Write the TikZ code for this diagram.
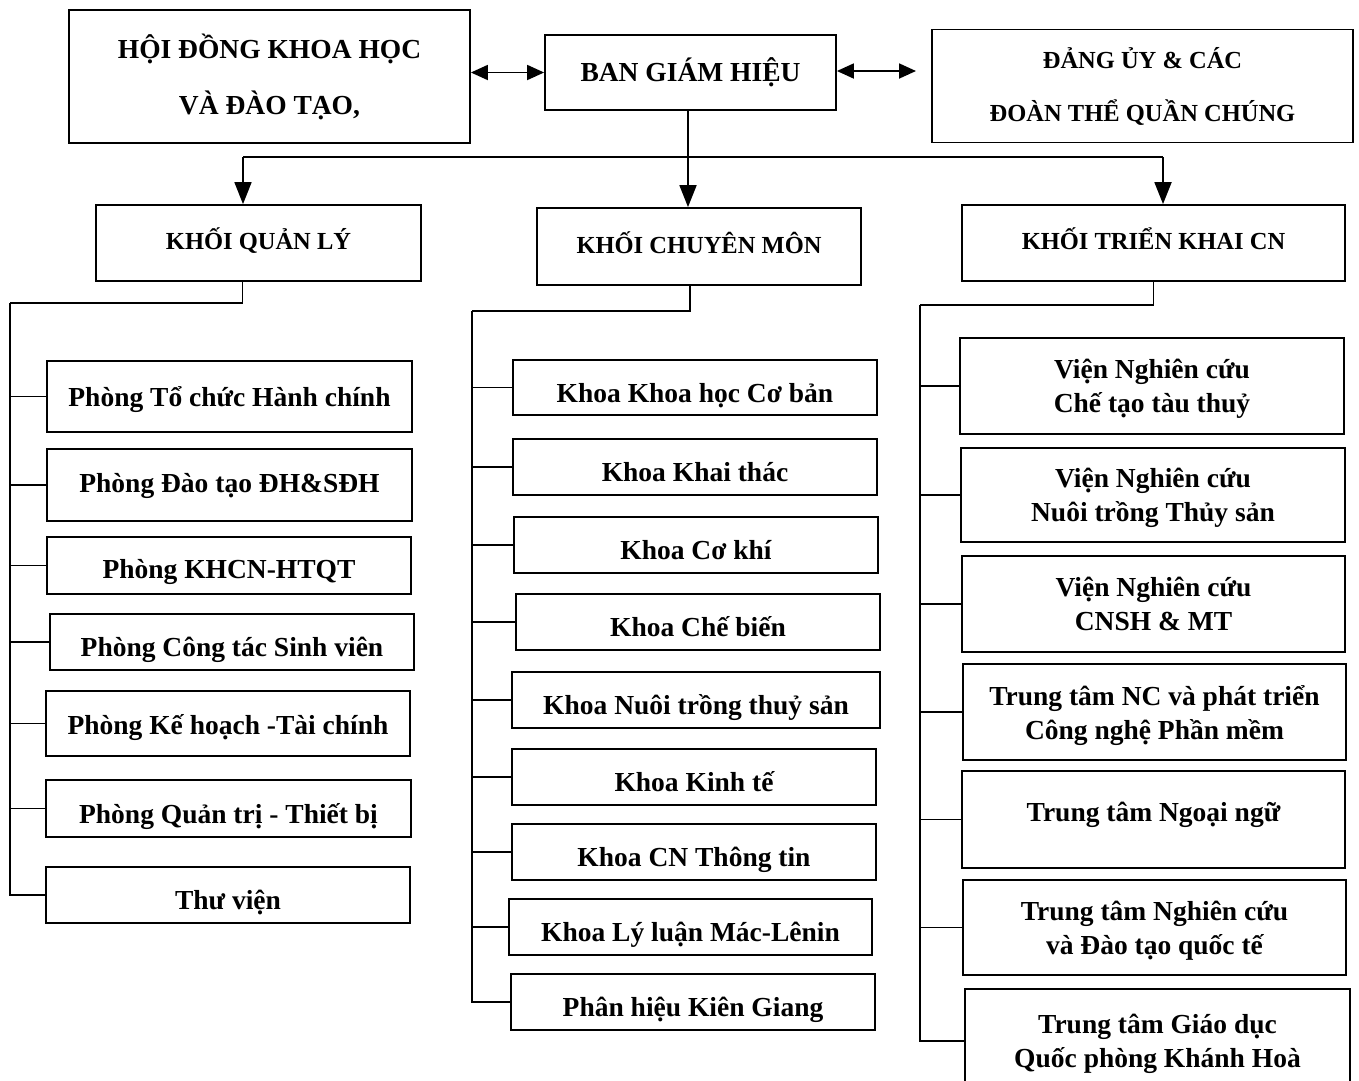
\documentclass[tikz,border=0pt]{standalone}
\usepackage{fontspec}
\setmainfont{Liberation Serif}
\usetikzlibrary{arrows.meta}
\tikzset{
  box/.style={draw, line width=1.8pt, inner sep=0pt, align=center, font=\fontsize{27.5}{34}\selectfont\bfseries},
  sbox/.style={box, text height=29pt, text depth=0pt},
  mbox/.style={box, text depth=0pt},
  hbox/.style={box, font=\fontsize{24.5}{30}\selectfont\bfseries, text depth=8pt},
  ln/.style={line width=1.8pt},
  arr/.style={ln, -{Triangle[width=17pt,length=22pt]}},
  darr/.style={ln, {Triangle[width=15pt,length=17pt]}-{Triangle[width=15pt,length=17pt]}}
}
\begin{document}
\begin{tikzpicture}[x=1pt,y=-1pt]
\useasboundingbox[fill=white] (0,0) rectangle (1359,1080);
% top row
\node[box, font=\fontsize{27.5}{56}\selectfont\bfseries, minimum width=401, minimum height=133] (hd) at (269.5,76.5) {HỘI ĐỒNG KHOA HỌC\\VÀ ĐÀO TẠO,};
\node[box, minimum width=291, minimum height=75] (bgh) at (690.5,72.5) {BAN GIÁM HIỆU};
\node[box, font=\fontsize{24.5}{53}\selectfont\bfseries, minimum width=421, minimum height=113] (du) at (1142.5,86) {ĐẢNG ỦY \& CÁC\\ĐOÀN THỂ QUẦN CHÚNG};
\coordinate (dend) at (916,71);
\draw[darr] (hd.east |- bgh.west) -- (bgh.west);
\draw[darr] (bgh.east |- dend) -- (dend);
% blocks
\node[hbox, minimum width=325, minimum height=76] (kql) at (258.5,243) {KHỐI QUẢN LÝ};
\node[hbox, minimum width=324, minimum height=77] (kcm) at (699,246.5) {KHỐI CHUYÊN MÔN};
\node[hbox, minimum width=383, minimum height=76] (ktk) at (1153.5,243) {KHỐI TRIỂN KHAI CN};
\coordinate (hl) at (243,157);
\coordinate (hr) at (1163,157);
\draw[ln] (hl) -- (hr);
\draw[arr] ([xshift=-2.5]bgh.south) -- ([xshift=-11]kcm.north);
\draw[arr] (hl) -- (hl |- kql.north);
\draw[arr] (hr) -- (hr |- ktk.north);
% left column
\node[sbox, text height=19pt, minimum width=365, minimum height=71] (p1) at (229.5,396.5) {Phòng Tổ chức Hành chính};
\node[sbox, text height=14pt, minimum width=365, minimum height=72] (p2) at (229.5,485) {Phòng Đào tạo ĐH\&SĐH};
\node[sbox, text height=26pt, minimum width=364, minimum height=57] (p3) at (229,565.5) {Phòng KHCN-HTQT};
\node[sbox, minimum width=364, minimum height=56] (p4) at (232,642) {Phòng Công tác Sinh viên};
\node[sbox, text height=22pt, minimum width=364, minimum height=65] (p5) at (228,723.5) {Phòng Kế hoạch -Tài chính};
\node[sbox, minimum width=365, minimum height=57] (p6) at (228.5,808.5) {Phòng Quản trị - Thiết bị};
\node[sbox, minimum width=364, minimum height=56] (p7) at (228,895) {Thư viện};
\coordinate (ls) at (10,303);
\draw[ln] ([xshift=-16]kql.south) |- (ls);
\draw[ln] (ls) |- (p7.west);
\draw[ln] (p1.west -| ls) -- (p1.west);
\draw[ln] (p2.west -| ls) -- (p2.west);
\draw[ln] (p3.west -| ls) -- (p3.west);
\draw[ln] (p4.west -| ls) -- (p4.west);
\draw[ln] (p5.west -| ls) -- (p5.west);
\draw[ln] (p6.west -| ls) -- (p6.west);
% middle column
\node[sbox, minimum width=364, minimum height=55] (k1) at (695,387.5) {Khoa Khoa học Cơ bản};
\node[sbox, minimum width=364, minimum height=56] (k2) at (695,467) {Khoa Khai thác};
\node[sbox, minimum width=364, minimum height=56] (k3) at (696,545) {Khoa Cơ khí};
\node[sbox, minimum width=364, minimum height=56] (k4) at (698,622) {Khoa Chế biến};
\node[sbox, minimum width=368, minimum height=56] (k5) at (696,700) {Khoa Nuôi trồng thuỷ sản};
\node[sbox, minimum width=364, minimum height=56] (k6) at (694,777) {Khoa Kinh tế};
\node[sbox, minimum width=364, minimum height=56] (k7) at (694,852) {Khoa CN Thông tin};
\node[sbox, minimum width=363, minimum height=56] (k8) at (690.5,927) {Khoa Lý luận Mác-Lênin};
\node[sbox, minimum width=364, minimum height=56] (k9) at (693,1002) {Phân hiệu Kiên Giang};
\coordinate (ms) at (472,311);
\draw[ln] ([xshift=-9]kcm.south) |- (ms);
\draw[ln] (ms) |- (k9.west);
\draw[ln] (k1.west -| ms) -- (k1.west);
\draw[ln] (k2.west -| ms) -- (k2.west);
\draw[ln] (k3.west -| ms) -- (k3.west);
\draw[ln] (k4.west -| ms) -- (k4.west);
\draw[ln] (k5.west -| ms) -- (k5.west);
\draw[ln] (k6.west -| ms) -- (k6.west);
\draw[ln] (k7.west -| ms) -- (k7.west);
\draw[ln] (k8.west -| ms) -- (k8.west);
% right column
\node[mbox, minimum width=384, minimum height=96] (v1) at (1152,386) {Viện Nghiên cứu\\Chế tạo tàu thuỷ};
\node[mbox, minimum width=384, minimum height=94] (v2) at (1153,495) {Viện Nghiên cứu\\Nuôi trồng Thủy sản};
\node[box, minimum width=383, minimum height=96] (v3) at (1153.5,604) {Viện Nghiên cứu\\CNSH \& MT};
\node[mbox, minimum width=383, minimum height=96] (t1) at (1154.5,712) {Trung tâm NC và phát triển\\Công nghệ Phần mềm};
\node[box, minimum width=383, minimum height=97, text depth=16pt] (t2) at (1153.5,819.5) {Trung tâm Ngoại ngữ};
\node[mbox, minimum width=383, minimum height=95] (t3) at (1154.5,927.5) {Trung tâm Nghiên cứu\\và Đào tạo quốc tế};
\node[mbox, minimum width=385, minimum height=104] (t4) at (1157.5,1041) {Trung tâm Giáo dục\\Quốc phòng Khánh Hoà};
\coordinate (rs) at (920,305);
\draw[ln] (ktk.south) |- (rs);
\draw[ln] (rs) |- (t4.west);
\draw[ln] (v1.west -| rs) -- (v1.west);
\draw[ln] (v2.west -| rs) -- (v2.west);
\draw[ln] (v3.west -| rs) -- (v3.west);
\draw[ln] (t1.west -| rs) -- (t1.west);
\draw[ln] (t2.west -| rs) -- (t2.west);
\draw[ln] (t3.west -| rs) -- (t3.west);
\end{tikzpicture}
\end{document}
